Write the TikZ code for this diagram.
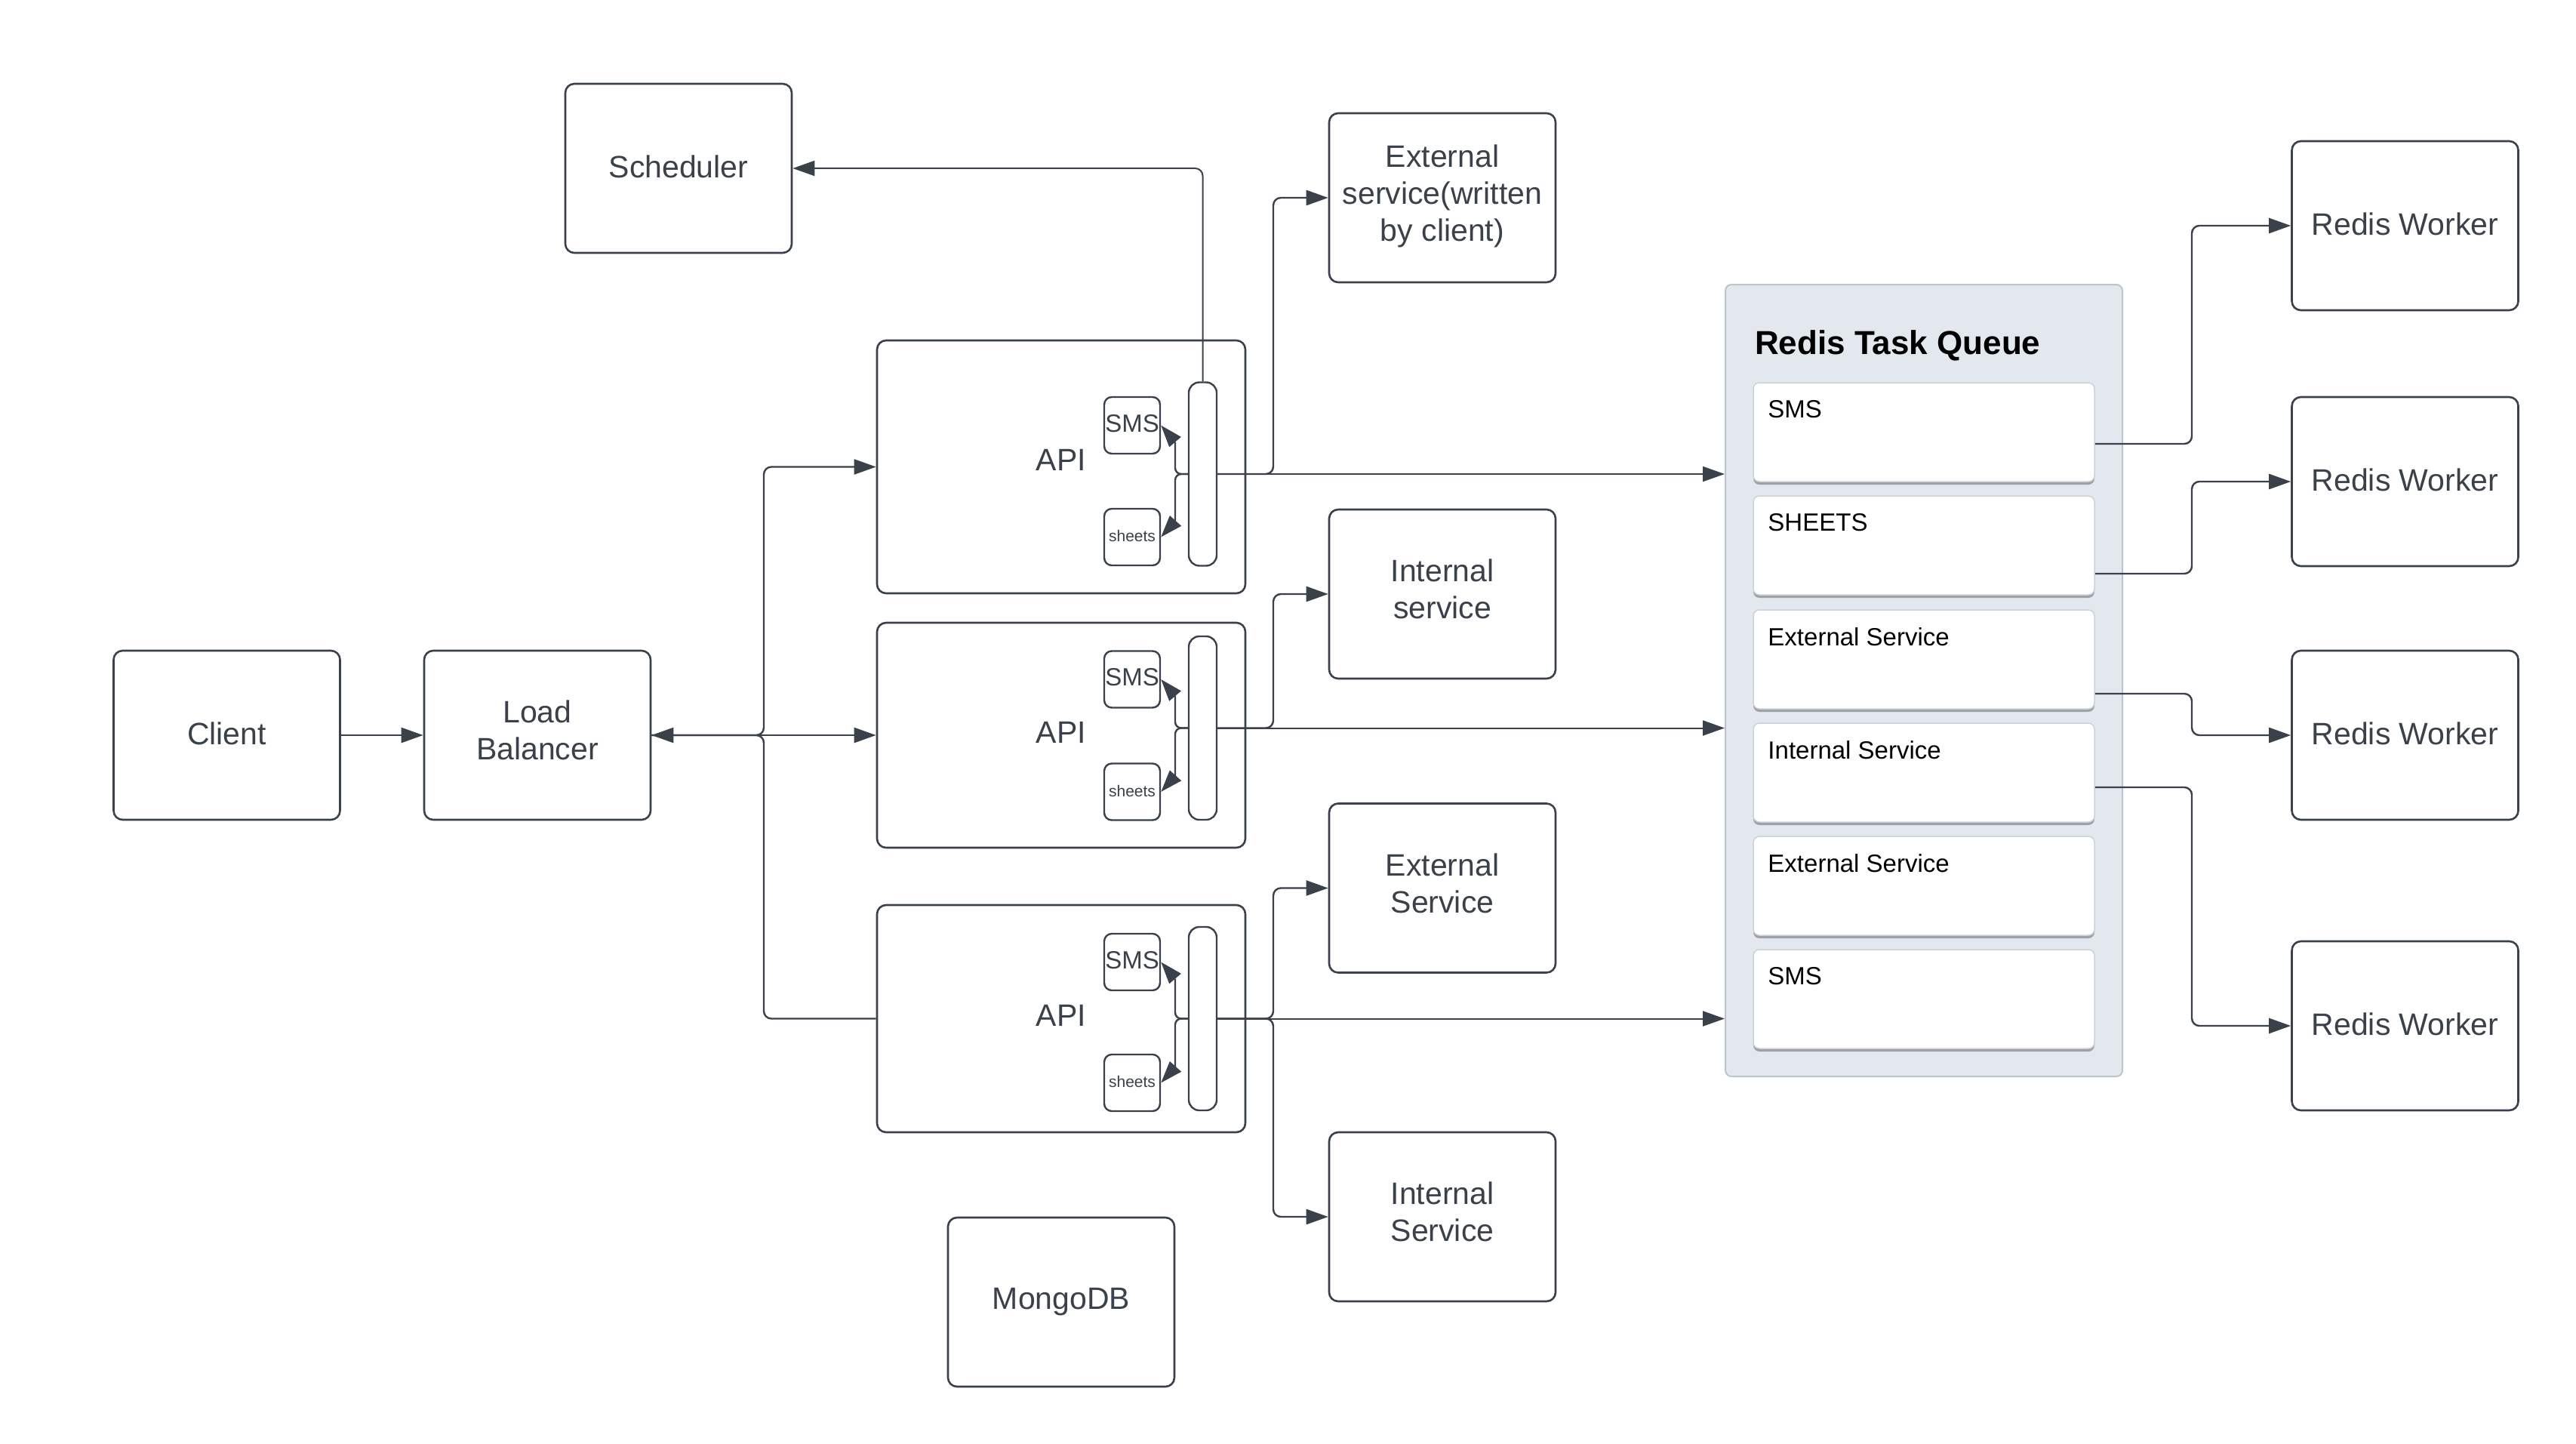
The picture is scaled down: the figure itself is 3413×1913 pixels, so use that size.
\documentclass[tikz,border=0pt]{standalone}
\usepackage{fontspec}
\setmainfont{Liberation Sans}
\usetikzlibrary{arrows.meta,shadows,calc}
\definecolor{lc}{HTML}{3A414A}
\definecolor{qbg}{HTML}{E3E8EE}
\definecolor{qbd}{HTML}{BCC4CD}
\definecolor{ibd}{HTML}{CDD2D8}
\newcommand{\biglbl}{\fontsize{41}{49}\selectfont}
\newcommand{\itemlbl}{\fontsize{33}{40}\selectfont}
\newcommand{\titlelbl}{\fontsize{44}{53}\selectfont\bfseries}
\newcommand{\smslbl}{\fontsize{33}{40}\selectfont}
\newcommand{\sheetlbl}{\fontsize{21}{25}\selectfont}
\newcommand{\dn}[1]{\rule[-#1pt]{0pt}{#1pt}}
\begin{document}
\begin{tikzpicture}[x=1pt,y=-1pt,
  box/.style={draw=lc, line width=2.6pt, rounded corners=12pt, fill=white, text=lc, font=\biglbl, align=center, inner sep=0pt, minimum width=300pt, minimum height=224pt},
  apibox/.style={box, minimum width=488pt},
  smallbox/.style={draw=lc, line width=2.4pt, rounded corners=10pt, fill=white, text=lc, inner sep=0pt, minimum width=74pt, minimum height=75pt},
  barbox/.style={draw=lc, line width=2.4pt, rounded corners=14pt, fill=white, inner sep=0pt, minimum width=37pt, minimum height=243pt},
  conn/.style={draw=lc, line width=2.4pt},
  tip/.style={-{Triangle[length=29pt,width=20pt]}},
  qitem/.style={draw=ibd, line width=1.5pt, fill=white, rounded corners=8pt, minimum width=452pt, minimum height=131pt, inner sep=0pt, drop shadow={shadow xshift=0pt, shadow yshift=-4pt, opacity=0.3, fill=black}},
  qtext/.style={anchor=north west, inner sep=0pt, font=\itemlbl, text=black},
]
\useasboundingbox (0,0) rectangle (3413,1913);

% main boxes
\node[box] (client) at (300.5,974) {Client\dn{4}};
\node[box] (lb) at (712,974) {Load\\Balancer\dn{13}};
\node[box] (sched) at (899,223) {Scheduler\dn{4}};
\node[box] (ext1) at (1911,262) {External\\service(written\\by client)\dn{13}};
\node[box] (int1) at (1911,787) {Internal\\service\dn{13}};
\node[box] (ext2) at (1911,1176.5) {External\\Service\dn{13}};
\node[box] (int2) at (1911,1612) {Internal\\Service\dn{13}};
\node[box] (mongo) at (1406,1725) {MongoDB};

\node[apibox, minimum height=335pt] (api1) at (1406,618.5) {API\dn{18}};
\node[apibox, minimum height=298pt] (api2) at (1406,974) {API\dn{8}};
\node[apibox, minimum height=301pt] (api3) at (1406,1349.5) {API\dn{8}};

\node[smallbox, font=\smslbl] (sms1) at (1500,563.5) {SMS\dn{6}};
\node[smallbox, font=\sheetlbl] (sh1) at (1500,711.5) {sheets\dn{3}};
\node[barbox] (bar1) at (1593.5,628) {};
\node[smallbox, font=\smslbl] (sms2) at (1500,900) {SMS\dn{6}};
\node[smallbox, font=\sheetlbl] (sh2) at (1500,1049) {sheets\dn{3}};
\node[barbox] (bar2) at (1593.5,964.5) {};
\node[smallbox, font=\smslbl] (sms3) at (1500,1274.5) {SMS\dn{6}};
\node[smallbox, font=\sheetlbl] (sh3) at (1500,1434.5) {sheets\dn{3}};
\node[barbox] (bar3) at (1593.5,1349.5) {};

% workers
\node[box] (w1) at (3186.5,299) {Redis Worker\dn{5}};
\node[box] (w2) at (3186.5,638) {Redis Worker\dn{5}};
\node[box] (w3) at (3186.5,974) {Redis Worker\dn{5}};
\node[box] (w4) at (3186.5,1359) {Redis Worker\dn{5}};

% redis task queue
\node[draw=qbd, fill=qbg, line width=2pt, rounded corners=8pt, minimum width=526pt, minimum height=1049pt, inner sep=0pt] (redis) at (2549,901.5) {};
\node[anchor=north west, inner sep=0pt, font=\titlelbl, text=black] (rtitle) at (2325,437) {Redis Task Queue};
\node[qitem] (q1) at (2549,572.5) {};
\node[qitem] (q2) at (2549,722.5) {};
\node[qitem] (q3) at (2549,873.5) {};
\node[qitem] (q4) at (2549,1023.5) {};
\node[qitem] (q5) at (2549,1173.5) {};
\node[qitem] (q6) at (2549,1323.5) {};
\node[qtext] (q1t) at ($(q1.north west)+(20,24)$) {SMS};
\node[qtext] (q2t) at ($(q2.north west)+(20,24)$) {SHEETS};
\node[qtext] (q3t) at ($(q3.north west)+(20,24)$) {External Service};
\node[qtext] (q4t) at ($(q4.north west)+(20,24)$) {Internal Service};
\node[qtext] (q5t) at ($(q5.north west)+(20,24)$) {External Service};
\node[qtext] (q6t) at ($(q6.north west)+(20,24)$) {SMS};

% client -> lb
\draw[conn, tip] (client) -- (lb);
% lb -> apis
\coordinate (lbj) at (1012,974);
\draw[conn, tip, rounded corners=10pt] (lb.east) -- (lbj) |- (api1.west);
\draw[conn, rounded corners=10pt] (lb.east) -- (lbj) |- (api3.west);
\draw[conn, {Triangle[length=29pt,width=20pt]}-{Triangle[length=29pt,width=20pt]}] (lb.east) -- (api2.west);

% inside the APIs
\coordinate (k1a) at (1557,585.5);
\coordinate (k1b) at (1557,690.5);
\coordinate (k2a) at (1557,922);
\coordinate (k2b) at (1557,1028);
\coordinate (k3a) at (1557,1296.5);
\coordinate (k3b) at (1557,1413.5);
\draw[conn, rounded corners=8pt] (bar1.west) -- (1557,628) -- (k1a);
\draw[conn, rounded corners=8pt] (bar1.west) -- (1557,628) -- (k1b);
\draw[conn, tip] (k1a) -- (sms1.east);
\draw[conn, tip] (k1b) -- (sh1.east);
\draw[conn, rounded corners=8pt] (bar2.west) -- (1557,964.5) -- (k2a);
\draw[conn, rounded corners=8pt] (bar2.west) -- (1557,964.5) -- (k2b);
\draw[conn, tip] (k2a) -- (sms2.east);
\draw[conn, tip] (k2b) -- (sh2.east);
\draw[conn, rounded corners=8pt] (bar3.west) -- (1557,1349.5) -- (k3a);
\draw[conn, rounded corners=8pt] (bar3.west) -- (1557,1349.5) -- (k3b);
\draw[conn, tip] (k3a) -- (sms3.east);
\draw[conn, tip] (k3b) -- (sh3.east);

% api -> scheduler
\draw[conn, line width=2pt, tip, rounded corners=10pt] (bar1.north) |- (sched.east);
% api -> services
\draw[conn, tip, rounded corners=10pt] (bar1.east) -- (1687,628) |- (ext1.west);
\draw[conn, tip, rounded corners=10pt] (bar2.east) -- (1687,964.5) |- (int1.west);
\draw[conn, tip, rounded corners=10pt] (bar3.east) -- (1687,1349.5) |- (ext2.west);
\draw[conn, tip, rounded corners=10pt] (bar3.east) -- (1687,1349.5) |- (int2.west);
% api -> redis queue
\draw[conn, line width=2pt, tip] (bar1.east) -- (bar1.east -| redis.west);
\draw[conn, line width=2pt, tip] (bar2.east) -- (bar2.east -| redis.west);
\draw[conn, line width=2pt, tip] (bar3.east) -- (bar3.east -| redis.west);

% queue -> workers
\draw[conn, tip, rounded corners=10pt] ($(q1.east)+(0,15.5)$) -- (2904,588) |- (w1.west);
\draw[conn, tip, rounded corners=10pt] ($(q2.east)+(0,37.5)$) -- (2904,760) |- (w2.west);
\draw[conn, tip, rounded corners=10pt] ($(q3.east)+(0,45.5)$) -- (2904,919) |- (w3.west);
\draw[conn, tip, rounded corners=10pt] ($(q4.east)+(0,19.5)$) -- (2904,1043) |- (w4.west);
\end{tikzpicture}
\end{document}
